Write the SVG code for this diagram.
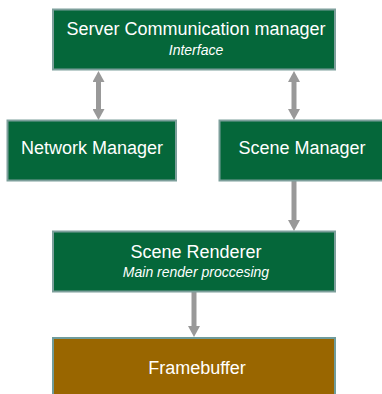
<svg xmlns="http://www.w3.org/2000/svg" width="382" height="394" viewBox="0 0 382 394">
  <style>
    .box { fill: #05673a; stroke: #7d9f9b; stroke-width: 2; }
    .fb { fill: #996600; stroke: #6f9c9c; stroke-width: 2; }
    .title { font-family: "Liberation Sans", Arial, sans-serif; font-size: 18px; fill: #ffffff; text-anchor: middle; }
    .sub { font-family: "Liberation Sans", Arial, sans-serif; font-size: 14px; font-style: italic; fill: #ffffff; text-anchor: middle; }
    .link { stroke: #999999; stroke-width: 5; fill: none; }
  </style>
  <defs>
    <!-- arrowhead: reference point at the base, tip 11px further on -->
    <marker id="head" markerUnits="userSpaceOnUse" markerWidth="12" markerHeight="12" viewBox="0 0 12 12" refX="0" refY="6" orient="auto-start-reverse">
      <path d="M0,0 L11,6 L0,12 Z" fill="#999999"/>
    </marker>
  </defs>

  <g id="connectors">
    <line class="link" x1="98.5" y1="82" x2="98.5" y2="109" marker-start="url(#head)" marker-end="url(#head)"/>
    <line class="link" x1="294" y1="82" x2="294" y2="109" marker-start="url(#head)" marker-end="url(#head)"/>
    <line class="link" x1="294" y1="181" x2="294" y2="220" marker-end="url(#head)"/>
    <line class="link" x1="194" y1="292" x2="194" y2="326" marker-end="url(#head)"/>
  </g>

  <g id="server-communication-manager">
    <rect class="box" x="53" y="9.5" width="282" height="60"/>
    <text class="title" x="196" y="35">Server Communication manager</text>
    <text class="sub" x="196" y="55">Interface</text>
  </g>

  <g id="network-manager">
    <rect class="box" x="7.5" y="120.5" width="168.5" height="60"/>
    <text class="title" x="92" y="154">Network Manager</text>
  </g>

  <g id="scene-manager">
    <rect class="box" x="219.5" y="120.5" width="168.5" height="60"/>
    <text class="title" x="302" y="154">Scene Manager</text>
  </g>

  <g id="scene-renderer">
    <rect class="box" x="53" y="231.5" width="282" height="60"/>
    <text class="title" x="196" y="257.5">Scene Renderer</text>
    <text class="sub" x="196" y="277">Main render proccesing</text>
  </g>

  <g id="framebuffer">
    <rect class="fb" x="53" y="338" width="282" height="62"/>
    <text class="title" x="197" y="374">Framebuffer</text>
  </g>
</svg>
